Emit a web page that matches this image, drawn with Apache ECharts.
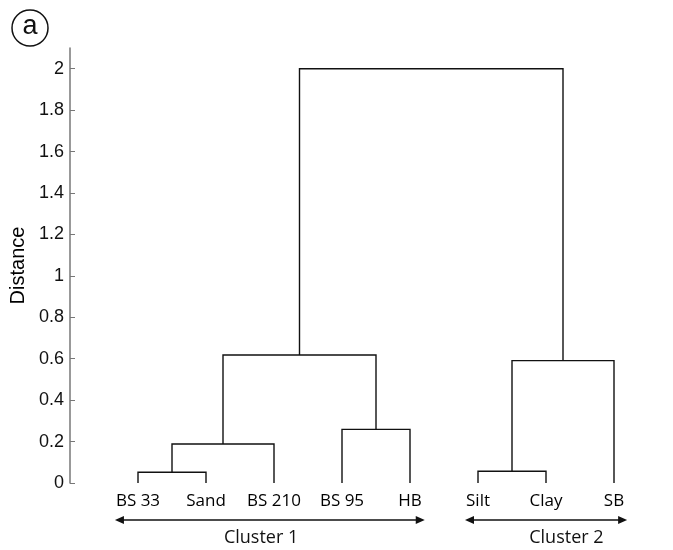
<!DOCTYPE html>
<html>
<head>
<meta charset="utf-8">
<script src="https://cdn.jsdelivr.net/npm/echarts@6/dist/echarts.min.js"></script>
<style>
  html, body { margin: 0; padding: 0; background: #fff; }
  #chart { width: 673px; height: 550px; }
</style>
</head>
<body>
<div id="chart"></div>
<script>
// Leaf samples in dendrogram order
const leaves = ['BS 33', 'Sand', 'BS 210', 'BS 95', 'HB', 'Silt', 'Clay', 'SB'];
// Agglomeration steps: nodes 0..7 are leaves, step k creates node 8 + k
const mergeLeft = [0, 8, 3, 5, 9, 11, 12];
const mergeRight = [1, 2, 4, 6, 10, 7, 13];
const mergeHeight = [0.052, 0.188, 0.259, 0.057, 0.618, 0.591, 2.0];
// Y axis tick labels
const yTicks = [0, 0.2, 0.4, 0.6, 0.8, 1, 1.2, 1.4, 1.6, 1.8, 2];
// Cluster groupings (first leaf, last leaf)
const clusterNames = ['Cluster 1', 'Cluster 2'];
const clusterFirst = [0, 5];
const clusterLast = [4, 7];

// Resolve node positions: x = mean of children, height = merge distance
const nodeX = leaves.map((_, i) => i);
const nodeH = leaves.map(() => 0);
const links = [];
mergeLeft.forEach((l, k) => {
  const r = mergeRight[k];
  const h = mergeHeight[k];
  links.push([nodeX[l], nodeH[l], nodeX[r], nodeH[r], h]);
  nodeX.push((nodeX[l] + nodeX[r]) / 2);
  nodeH.push(h);
});

const leafFont = '"Open Sans", sans-serif';
const axisFont = '"Liberation Sans", Arial, sans-serif';
const leafSize = 17;
const measureCtx = document.createElement('canvas').getContext('2d');
function textWidth(str, size) {
  measureCtx.font = size + 'px ' + leafFont;
  return measureCtx.measureText(str).width;
}

const clusterData = clusterNames.map((n, i) => [clusterFirst[i], clusterLast[i], n]);
const clusterLabelShift = [-0.19, 0.3];

const chart = echarts.init(document.getElementById('chart'));
chart.setOption({
  animation: false,
  backgroundColor: '#fff',
  grid: { left: 104, right: 25, top: 48, bottom: 67 },
  xAxis: [
    {
      type: 'category',
      data: leaves,
      boundaryGap: true,
      axisLine: { show: false },
      axisTick: { show: false },
      splitLine: { show: false },
      axisLabel: { interval: 0, hideOverlap: false, color: '#000', fontFamily: leafFont, fontSize: leafSize, margin: 10 }
    },
    {
      type: 'value',
      min: -0.5,
      max: 7.5,
      show: false
    }
  ],
  yAxis: {
    type: 'value',
    min: 0,
    max: 2.1,
    offset: 34,
    name: 'Distance',
    nameLocation: 'middle',
    nameGap: 41,
    nameTextStyle: { color: '#000', fontFamily: axisFont, fontSize: 20 },
    axisLine: { show: true, onZero: false, lineStyle: { color: '#777', width: 1.5 } },
    axisTick: { show: true, inside: true, length: 5, customValues: yTicks, lineStyle: { color: '#777', width: 1 } },
    axisLabel: {
      customValues: yTicks,
      color: '#111',
      fontFamily: axisFont,
      fontSize: 18,
      margin: 6,
      formatter: v => String(v)
    },
    splitLine: { show: false }
  },
  series: [
    {
      type: 'custom',
      xAxisIndex: 1,
      clip: false,
      data: links,
      renderItem: (params, api) => {
        const a = api.coord([api.value(0), api.value(1)]);
        const b = api.coord([api.value(0), api.value(4)]);
        const c = api.coord([api.value(2), api.value(4)]);
        const d = api.coord([api.value(2), api.value(3)]);
        return {
          type: 'polyline',
          shape: { points: [a, b, c, d] },
          style: { stroke: '#111', lineWidth: 1.4, fill: null }
        };
      }
    },
    {
      type: 'custom',
      xAxisIndex: 1,
      clip: false,
      data: clusterData,
      renderItem: (params, api) => {
        const i = params.dataIndex;
        const first = clusterFirst[i];
        const last = clusterLast[i];
        const p0 = api.coord([first, 0]);
        const p1 = api.coord([last, 0]);
        const x0 = p0[0] - textWidth(leaves[first], leafSize) / 2 - 1;
        const x1 = p1[0] + textWidth(leaves[last], leafSize) / 2 + 3;
        const y = p0[1] + 37;
        const head = 9, half = 4;
        const mid = api.coord([(first + last) / 2 + clusterLabelShift[i], 0])[0];
        return {
          type: 'group',
          children: [
            { type: 'line', shape: { x1: x0 + 4, y1: y, x2: x1 - 4, y2: y }, style: { stroke: '#111', lineWidth: 1.3 } },
            { type: 'polygon', shape: { points: [[x0, y], [x0 + head, y - half], [x0 + head, y + half]] }, style: { fill: '#111' } },
            { type: 'polygon', shape: { points: [[x1, y], [x1 - head, y - half], [x1 - head, y + half]] }, style: { fill: '#111' } },
            { type: 'text', x: mid, y: y + 18, style: { text: clusterNames[i], font: '18px ' + leafFont, fill: '#111', align: 'center', verticalAlign: 'middle' } }
          ]
        };
      }
    }
  ],
  graphic: [
    { type: 'circle', shape: { cx: 30, cy: 28, r: 18 }, style: { fill: 'none', stroke: '#111', lineWidth: 1.5 } },
    { type: 'text', x: 30, y: 27, style: { text: 'a', font: '27px "Liberation Sans", Arial, sans-serif', fill: '#111', align: 'center', verticalAlign: 'middle' } }
  ]
});
</script>
</body>
</html>
